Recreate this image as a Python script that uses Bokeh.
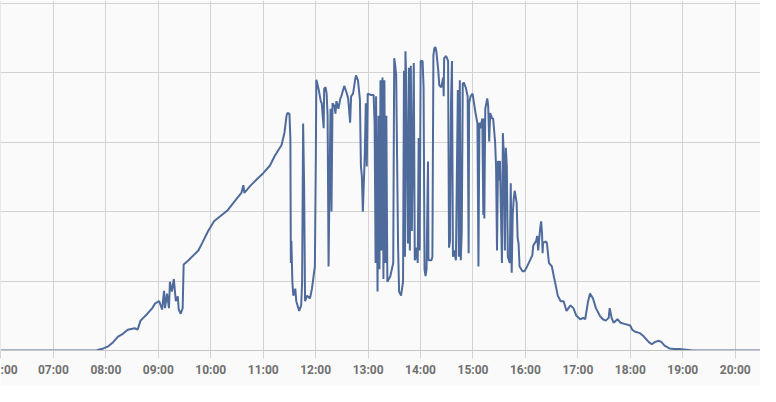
import pandas as pd
from bokeh.plotting import figure
from bokeh.models import Range1d, FixedTicker, DatetimeTickFormatter, ColumnDataSource
from bokeh.embed import file_html
from bokeh.resources import INLINE

# time of day in decimal hours
hours = [
    6.000, 7.821, 7.858, 7.952, 8.045, 8.138, 8.232, 8.325, 8.418, 8.549,
    8.605, 8.661, 8.792, 8.885, 8.941, 9.016, 9.072, 9.109, 9.128, 9.165,
    9.203, 9.221, 9.259, 9.296, 9.333, 9.371, 9.389, 9.427, 9.464, 9.483,
    9.576, 9.669, 9.763, 9.838, 9.950, 10.062, 10.192, 10.323, 10.435, 10.510,
    10.585, 10.622, 10.640, 10.753, 10.883, 10.995, 11.126, 11.219, 11.275, 11.350,
    11.406, 11.444, 11.462, 11.500, 11.518, 11.527, 11.537, 11.556, 11.574, 11.612,
    11.630, 11.686, 11.724, 11.742, 11.761, 11.780, 11.798, 11.836, 11.892, 11.929,
    11.985, 12.004, 12.013, 12.060, 12.097, 12.116, 12.153, 12.162, 12.190, 12.209,
    12.228, 12.246, 12.265, 12.284, 12.302, 12.321, 12.358, 12.377, 12.396, 12.433,
    12.471, 12.489, 12.545, 12.583, 12.620, 12.657, 12.676, 12.713, 12.751, 12.769,
    12.807, 12.844, 12.863, 12.881, 12.900, 12.937, 12.956, 12.975, 12.993, 13.049,
    13.105, 13.124, 13.143, 13.152, 13.180, 13.199, 13.217, 13.236, 13.255, 13.274,
    13.292, 13.311, 13.330, 13.348, 13.367, 13.423, 13.479, 13.498, 13.516, 13.535,
    13.572, 13.591, 13.628, 13.666, 13.684, 13.703, 13.712, 13.722, 13.759, 13.778,
    13.796, 13.815, 13.834, 13.871, 13.890, 13.908, 13.927, 13.946, 13.964, 13.983,
    14.002, 14.039, 14.058, 14.076, 14.095, 14.114, 14.142, 14.151, 14.207, 14.226,
    14.245, 14.263, 14.282, 14.301, 14.338, 14.357, 14.394, 14.431, 14.441, 14.450,
    14.487, 14.525, 14.543, 14.562, 14.581, 14.599, 14.618, 14.637, 14.674, 14.711,
    14.730, 14.749, 14.767, 14.786, 14.805, 14.823, 14.861, 14.898, 14.917, 14.926,
    14.954, 14.992, 15.010, 15.048, 15.085, 15.104, 15.122, 15.141, 15.178, 15.197,
    15.206, 15.216, 15.234, 15.272, 15.290, 15.309, 15.328, 15.365, 15.384, 15.421,
    15.440, 15.458, 15.477, 15.496, 15.514, 15.552, 15.570, 15.589, 15.608, 15.626,
    15.645, 15.664, 15.701, 15.720, 15.738, 15.757, 15.776, 15.795, 15.832, 15.851,
    15.869, 15.888, 15.944, 15.981, 16.019, 16.075, 16.131, 16.149, 16.205, 16.224,
    16.243, 16.280, 16.299, 16.317, 16.327, 16.336, 16.392, 16.411, 16.448, 16.504,
    16.541, 16.579, 16.616, 16.672, 16.728, 16.784, 16.859, 16.915, 16.971, 17.046,
    17.102, 17.139, 17.195, 17.232, 17.288, 17.344, 17.419, 17.475, 17.531, 17.587,
    17.606, 17.643, 17.681, 17.755, 17.811, 17.905, 17.998, 18.035, 18.091, 18.185,
    18.259, 18.353, 18.409, 18.465, 18.540, 18.596, 18.652, 18.745, 18.838, 18.932,
    19.063, 19.193, 20.482,
]

# power in kW
power_kw = [
    0, 0, 0.01, 0.03, 0.06, 0.12, 0.20, 0.24, 0.30, 0.32,
    0.30, 0.43, 0.53, 0.61, 0.68, 0.71, 0.59, 0.86, 0.61, 0.82,
    0.61, 0.99, 0.85, 1.03, 0.71, 0.78, 0.59, 0.53, 0.61, 1.24,
    1.30, 1.37, 1.44, 1.55, 1.72, 1.86, 1.94, 2.02, 2.13, 2.20,
    2.27, 2.38, 2.27, 2.37, 2.47, 2.55, 2.66, 2.80, 2.87, 2.96,
    3.14, 3.38, 3.42, 3.41, 3.06, 1.26, 1.58, 0.99, 0.79, 0.89,
    0.71, 0.57, 0.65, 0.99, 3.27, 2.37, 0.71, 0.79, 0.75, 0.89,
    1.21, 2.83, 3.90, 3.75, 3.59, 3.56, 3.20, 3.77, 3.79, 3.70,
    3.38, 1.21, 2.45, 3.48, 2.00, 3.56, 3.52, 3.41, 3.59, 3.48,
    3.63, 3.66, 3.81, 3.73, 3.63, 3.28, 3.66, 3.70, 3.89, 3.96,
    3.89, 3.61, 2.65, 2.51, 2.00, 2.83, 3.56, 2.65, 3.70, 3.68,
    3.68, 3.28, 1.26, 3.66, 0.85, 3.38, 1.17, 3.89, 1.44, 3.93,
    1.03, 3.89, 1.26, 3.38, 0.99, 1.07, 1.26, 4.21, 4.11, 3.97,
    1.48, 0.85, 0.79, 0.99, 4.03, 1.35, 4.31, 4.04, 1.54, 4.07,
    1.44, 4.10, 1.72, 4.14, 1.30, 1.35, 1.48, 1.26, 3.06, 1.44,
    4.17, 4.17, 3.79, 1.17, 1.07, 1.17, 2.72, 1.30, 1.30, 1.35,
    4.25, 4.35, 4.37, 4.31, 4.03, 3.82, 3.79, 3.93, 3.66, 4.21,
    4.24, 4.17, 1.48, 1.58, 3.56, 4.17, 1.35, 1.44, 1.30, 3.75,
    1.35, 3.89, 1.30, 1.72, 3.84, 3.86, 3.79, 3.66, 1.40, 3.56,
    3.66, 3.70, 3.61, 3.42, 3.27, 1.21, 3.28, 3.20, 3.34, 1.95,
    3.34, 1.90, 3.48, 3.63, 3.52, 3.01, 3.42, 3.34, 3.34, 3.01,
    2.65, 1.44, 2.73, 2.45, 2.73, 1.26, 3.13, 2.78, 1.44, 2.92,
    2.65, 1.35, 1.26, 2.41, 1.12, 1.95, 2.18, 2.30, 2.13, 1.62,
    1.54, 1.21, 1.14, 1.14, 1.19, 1.28, 1.37, 1.51, 1.58, 1.65,
    1.44, 1.75, 1.86, 1.68, 1.40, 1.55, 1.57, 1.54, 1.26, 1.21,
    1.07, 0.93, 0.79, 0.71, 0.71, 0.57, 0.65, 0.61, 0.50, 0.45,
    0.47, 0.45, 0.71, 0.82, 0.75, 0.61, 0.50, 0.45, 0.43, 0.47,
    0.61, 0.47, 0.40, 0.45, 0.40, 0.38, 0.36, 0.30, 0.27, 0.25,
    0.20, 0.12, 0.09, 0.12, 0.14, 0.12, 0.07, 0.03, 0.02, 0.02,
    0.01, 0, 0,
]

tick_labels = ["06:00", "07:00", "08:00", "09:00", "10:00", "11:00", "12:00",
               "13:00", "14:00", "15:00", "16:00", "17:00", "18:00", "19:00", "20:00"]
# the first label is cut at the left edge in the reference; only ":00" shows
first_label_visible = ":00"
y_grid_values = [0, 1, 2, 3, 4, 5]

day = pd.Timestamp("2024-06-15")
epoch = pd.Timestamp("1970-01-01")


def to_ms(ts):
    return (ts - epoch).total_seconds() * 1000.0


times = [day + pd.Timedelta(hours=h) for h in hours]
src = ColumnDataSource(dict(t=[to_ms(t) for t in times], kw=power_kw))

tick_ms = [to_ms(day + pd.to_timedelta(lbl + ":00")) for lbl in tick_labels]

x_start = to_ms(day + pd.Timedelta(hours=5.9907))
x_end = to_ms(day + pd.Timedelta(hours=20.482))

p = figure(width=760, height=386, x_axis_type="datetime",
           x_range=Range1d(x_start, x_end), y_range=Range1d(0, 5.04),
           output_backend="svg", toolbar_location=None,
           min_border_left=0, min_border_right=0, min_border_top=0,
           min_border_bottom=36,
           background_fill_color="#fafafa", border_fill_color="#fafafa",
           outline_line_color=None)

p.line(x="t", y="kw", source=src, line_color="#4f6b9c", line_width=2)

xt = FixedTicker(ticks=tick_ms)
p.xaxis.ticker = xt
p.xgrid.ticker = xt
p.xaxis.formatter = DatetimeTickFormatter(hours="%H:%M", hourmin="%H:%M",
                                          minutes="%H:%M", days="%H:%M")
p.xaxis.major_label_overrides = {tick_ms[0]: first_label_visible}
p.xaxis.axis_line_color = "#c4c4c4"
p.xaxis.major_tick_line_color = "#d3d3d3"
p.xaxis.major_tick_out = 8
p.xaxis.major_tick_in = 0
p.xaxis.minor_tick_line_color = None
p.xaxis.major_label_text_font = "Roboto"
p.xaxis.major_label_text_font_style = "bold"
p.xaxis.major_label_text_font_size = "12px"
p.xaxis.major_label_text_color = "#707070"
p.xaxis.major_label_standoff = 4

p.yaxis.visible = False
p.ygrid.ticker = FixedTicker(ticks=y_grid_values)

p.xgrid.grid_line_color = "#d3d3d3"
p.ygrid.grid_line_color = "#d3d3d3"

open("out.html", "w").write(file_html(p, INLINE))
